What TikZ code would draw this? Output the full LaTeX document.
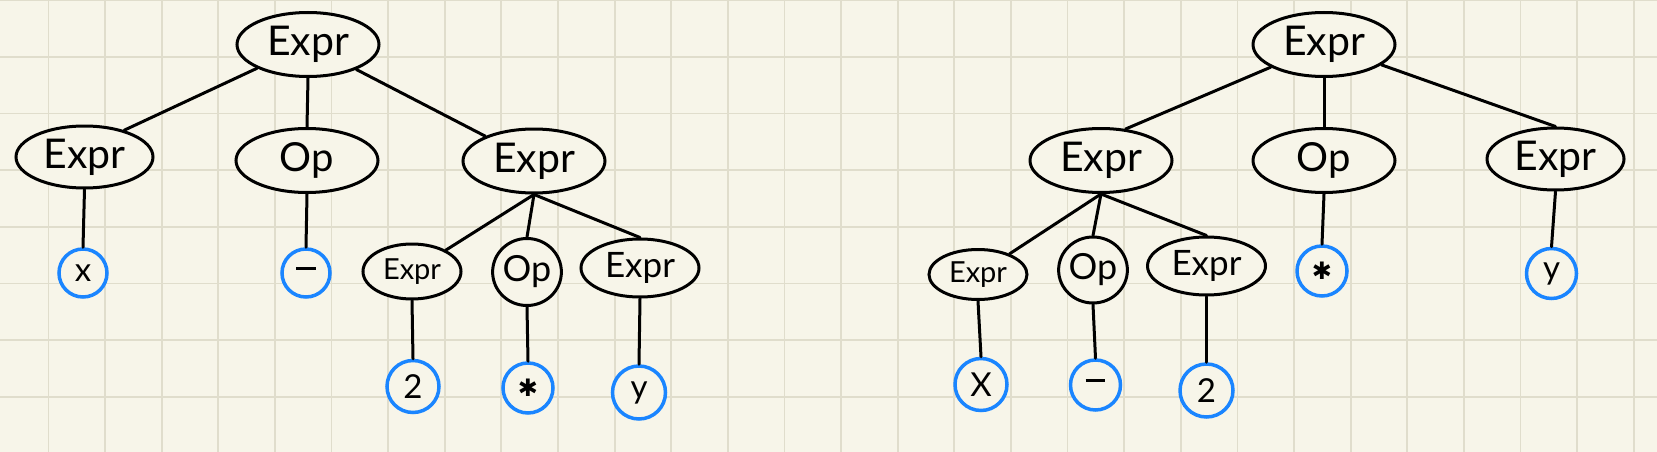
\documentclass[tikz,border=0pt]{standalone}
\usepackage{fontspec}
\setmainfont{Lato}
\newfontfamily\symfont{DejaVu Sans}
\usetikzlibrary{shapes.geometric}
\definecolor{paper}{HTML}{F7F5E9}
\definecolor{gridc}{HTML}{E0DDCC}
\definecolor{leafblue}{HTML}{1A85FF}
\newcommand{\mydash}{\rule[0.28em]{0.6em}{3.2pt}}
\newcommand{\myast}{{\symfont\fontsize{24}{26}\selectfont ✱}}
\tikzset{
  ell/.style={ellipse, draw=black, line width=3pt, inner sep=0pt, fill=paper},
  bigexpr/.style={ell, minimum width=142pt, minimum height=64pt, font=\fontsize{41}{43}\selectfont},
  midexpr/.style={ell, minimum width=118pt, minimum height=58pt, font=\fontsize{35}{37}\selectfont},
  smallexpr/.style={ell, minimum width=98pt, minimum height=52pt, font=\fontsize{29}{31}\selectfont},
  bigop/.style={ell, minimum width=142pt, minimum height=64pt, font=\fontsize{40}{42}\selectfont},
  smallop/.style={ell, minimum width=67pt, minimum height=67pt, font=\fontsize{36}{38}\selectfont},
  leaf/.style={circle, draw=leafblue, line width=3.5pt, inner sep=0pt, minimum size=50pt, fill=paper, font=\fontsize{33}{35}\selectfont},
  edge/.style={draw=black, line width=3pt, line cap=round},
}
\begin{document}
\begin{tikzpicture}[x=1pt,y=-1pt]
\useasboundingbox (0,0) rectangle (1657,452);
\fill[paper] (0,0) rectangle (1657,452);
\foreach \i in {0,...,28} {\draw[gridc, line width=1.8pt] ({48.4+56.62*\i},0) -- ({48.4+56.62*\i},452);}
\foreach \j in {0,...,7} {\draw[gridc, line width=1.8pt] (0,{0.33+56.62*\j}) -- (1657,{0.33+56.62*\j});}

% left tree
\node[bigexpr] (r1) at (308,44.5) {Expr};
\node[bigexpr, minimum width=137pt, minimum height=62pt] (a1) at (84.5,157) {Expr};
\node[bigop] (b1) at (307,160.5) {Op};
\node[bigexpr, minimum height=64pt] (c1) at (534,161) {Expr};
\node[leaf, minimum size=48pt] (lx) at (83,273) {x};
\node[leaf, minimum size=48pt] (lm) at (306,273) {\mydash};
\node[smallexpr, minimum height=55pt] (d1) at (412,271.5) {Expr};
\node[smallop] (e1) at (527,272) {Op};
\node[midexpr] (f1) at (640,268) {Expr};
\node[leaf, minimum size=52pt] (l2) at (413,386.5) {2};
\node[leaf] (ls) at (528,388) {\myast};
\node[leaf, minimum size=53pt] (ly) at (639,392.5) {y};

\draw[edge] (r1) -- (a1.34);
\draw[edge] (r1.south) -- (b1.north);
\draw[edge] (r1) -- (c1.153);
\draw[edge] (a1.south) -- (lx.north);
\draw[edge] (b1.south) -- (lm.north);
\draw[edge] (c1.south) -- (d1);
\draw[edge] (c1.south) -- (e1.north);
\draw[edge] (c1.south) -- (f1.north);
\draw[edge] (d1.south) -- (l2.north);
\draw[edge] (e1.south) -- (ls.north);
\draw[edge] (f1.south) -- (ly.north);

% right tree
\node[bigexpr] (r2) at (1324,44.5) {Expr};
\node[bigexpr] (a2) at (1101,160.5) {Expr};
\node[bigop] (b2) at (1324,160.5) {Op};
\node[bigexpr, minimum width=137pt, minimum height=62pt] (c2) at (1555.5,159) {Expr};
\node[smallexpr, minimum height=50pt] (d2) at (978,274.5) {Expr};
\node[smallop, minimum size=66pt] (e2) at (1093,270) {Op};
\node[midexpr] (f2) at (1206.5,266) {Expr};
\node[leaf, minimum size=52pt] (mx) at (981,384.5) {X};
\node[leaf] (mm) at (1095.5,385) {\mydash};
\node[leaf, minimum size=53pt] (m2) at (1206.5,390.5) {2};
\node[leaf] (ms) at (1322,271) {\myast};
\node[leaf] (my) at (1551.5,273.5) {y};

\draw[edge] (r2) -- (a2.52);
\draw[edge] (r2.south) -- (b2.north);
\draw[edge] (r2) -- (c2.north);
\draw[edge] (a2.south) -- (d2);
\draw[edge] (a2.south) -- (e2.north);
\draw[edge] (a2.south) -- (f2.north);
\draw[edge] (d2.south) -- (mx.north);
\draw[edge] (e2.south) -- (mm.north);
\draw[edge] (f2.south) -- (m2.north);
\draw[edge] (b2.south) -- (ms.north);
\draw[edge] (c2.south) -- (my.north);
\end{tikzpicture}
\end{document}
